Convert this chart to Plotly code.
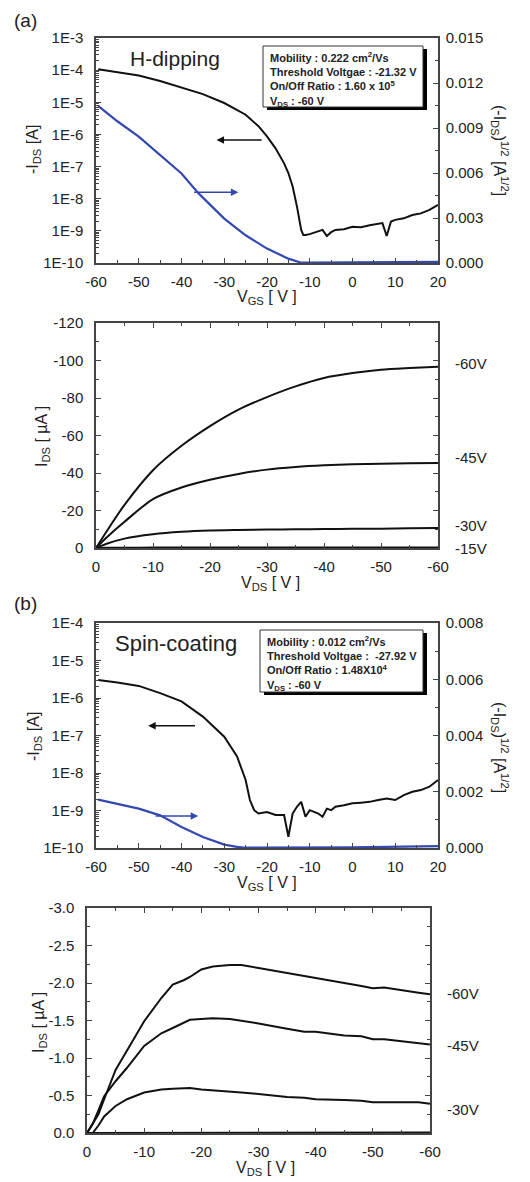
import plotly.graph_objects as go

# ---------------- DATA ----------------
# (a) H-dipping transfer curve
vgs_a = [-59.5, -55, -50, -45, -40, -35, -30, -25, -22, -20, -18, -16, -15, -14, -13, -12.5, -12,
         -11.5, -11, -10, -8, -7, -6, -5, -4, -2, 0, 2, 4, 6, 7, 8, 9, 10, 12, 14, 16, 18, 20]
ids_a = [1.07e-4, 8.5e-5, 6.8e-5, 4.6e-5, 2.95e-5, 1.8e-5, 9.5e-6, 4.1e-6, 1.8e-6, 8.7e-7, 3.7e-7,
         1.26e-7, 6.3e-8, 2.4e-8, 5.8e-9, 2.2e-9, 1.07e-9, 7.4e-10, 7.4e-10, 7.9e-10, 9.5e-10,
         1.07e-9, 6.9e-10, 9.1e-10, 1.07e-9, 1.12e-9, 1.35e-9, 1.29e-9, 1.5e-9, 1.64e-9, 1.74e-9,
         6.9e-10, 1.95e-9, 2.2e-9, 2.45e-9, 3.1e-9, 3.5e-9, 4.5e-9, 6.4e-9]
vgs_a_sqrt = [-59.5, -55, -50, -45, -40, -36, -30, -25, -20, -15, -12, -10, 0, 10, 20]
sqrt_a = [0.01048, 0.00945, 0.00843, 0.0072, 0.00597, 0.00464, 0.00296, 0.00185, 0.00096,
          0.00029, 0.00002, 0.00003, 0.00004, 0.00005, 0.00007]

# (a) H-dipping output curves
vds_a = [0, -2, -5, -10, -15, -20, -25, -30, -35, -40, -45, -50, -55, -60]
out_a_60 = [0, -9.5, -23, -41.5, -54.5, -65, -73.8, -80.5, -86.2, -90.7, -93.3, -95.1, -96.0, -96.7]
out_a_45 = [0, -6, -14, -26.1, -32.3, -36.4, -39.5, -41.8, -43.2, -44.1, -44.7, -45.0, -45.2, -45.3]
out_a_30 = [0, -2.4, -5.0, -7.3, -8.6, -9.3, -9.6, -9.8, -10.0, -10.1, -10.2, -10.3, -10.5, -10.7]
out_a_15 = [0, -0.1, -0.15, -0.2, -0.2, -0.2, -0.2, -0.2, -0.2, -0.2, -0.2, -0.2, -0.2, -0.2]

# (b) Spin-coating transfer curve
vgs_b = [-59.5, -55, -50, -45, -40, -35, -30, -27, -25, -24, -23, -22, -20, -19, -18, -16, -15,
         -14, -13, -12, -11, -10, -8, -7, -6, -5, -4, -2, 0, 2, 4, 6, 8, 10, 12, 14, 16, 18, 20]
ids_b = [3.0e-6, 2.6e-6, 2.1e-6, 1.35e-6, 8.1e-7, 3.2e-7, 9.3e-8, 2.75e-8, 6.5e-9, 1.9e-9, 1.02e-9,
         8.3e-10, 9.1e-10, 8.3e-10, 7.6e-10, 7.6e-10, 2.0e-10, 8.3e-10, 1.26e-9, 1.7e-9, 6.8e-10,
         1.02e-9, 8.3e-10, 6.8e-10, 1.12e-9, 1.02e-9, 1.26e-9, 1.38e-9, 1.55e-9, 1.62e-9, 1.7e-9,
         1.9e-9, 2.1e-9, 1.9e-9, 2.57e-9, 3.16e-9, 3.5e-9, 4.3e-9, 6.5e-9]
vgs_b_sqrt = [-59.5, -55, -50, -45, -40, -35, -30, -27, -25, 0, 10, 20]
sqrt_b = [0.00172, 0.00158, 0.0014, 0.00116, 0.00075, 0.00039, 0.00012, 0.00004, 0.00001,
          0.00002, 0.00004, 0.00007]

# (b) Spin-coating output curves
vds_b = [0, -1, -2, -3, -5, -7, -10, -13, -15, -17, -18, -20, -22, -25, -27, -30, -35, -38, -40,
         -45, -48, -50, -52, -55, -58, -60]
out_b_60 = [0, -0.12, -0.25, -0.45, -0.84, -1.1, -1.49, -1.8, -1.98, -2.04, -2.08, -2.18, -2.22,
            -2.24, -2.24, -2.2, -2.13, -2.09, -2.07, -2.0, -1.96, -1.93, -1.94, -1.9, -1.87, -1.85]
out_b_45 = [0, -0.12, -0.3, -0.49, -0.69, -0.87, -1.16, -1.33, -1.4, -1.47, -1.51, -1.52, -1.53,
            -1.52, -1.5, -1.46, -1.39, -1.35, -1.35, -1.3, -1.29, -1.25, -1.25, -1.22, -1.2, -1.18]
out_b_30 = [0, 0, -0.1, -0.22, -0.36, -0.45, -0.54, -0.58, -0.59, -0.6, -0.6, -0.58, -0.57, -0.55,
            -0.54, -0.52, -0.48, -0.47, -0.45, -0.44, -0.43, -0.41, -0.41, -0.4, -0.41, -0.39]
out_b_15 = [0, 0, 0, 0, 0, 0, -0.005, -0.005, -0.005, -0.005, -0.005, -0.005, -0.005, -0.005,
            -0.005, -0.005, -0.005, -0.005, -0.005, -0.005, -0.005, -0.005, -0.005, -0.005, -0.005, -0.005]

# tick labels
log_vals_a = [1e-10, 1e-9, 1e-8, 1e-7, 1e-6, 1e-5, 1e-4, 1e-3]
log_text_a = ['1E-10', '1E-9', '1E-8', '1E-7', '1E-6', '1E-5', '1E-4', '1E-3']
log_vals_b = [1e-10, 1e-9, 1e-8, 1e-7, 1e-6, 1e-5, 1e-4]
log_text_b = ['1E-10', '1E-9', '1E-8', '1E-7', '1E-6', '1E-5', '1E-4']
vgs_ticks = [-60, -50, -40, -30, -20, -10, 0, 10, 20]
vgs_text = ['-60', '-50', '-40', '-30', '-20', '-10', '0', '10', '20']
sqrt_a_ticks = [0, 0.003, 0.006, 0.009, 0.012, 0.015]
sqrt_a_text = ['0.000', '0.003', '0.006', '0.009', '0.012', '0.015']
sqrt_b_ticks = [0, 0.002, 0.004, 0.006, 0.008]
sqrt_b_text = ['0.000', '0.002', '0.004', '0.006', '0.008']
vds_ticks = [0, -10, -20, -30, -40, -50, -60]
vds_text = ['0', '-10', '-20', '-30', '-40', '-50', '-60']
ida_ticks = [0, -20, -40, -60, -80, -100, -120]
ida_text = ['0', '-20', '-40', '-60', '-80', '-100', '-120']
idb_ticks = [0, -0.5, -1.0, -1.5, -2.0, -2.5, -3.0]
idb_text = ['0.0', '-0.5', '-1.0', '-1.5', '-2.0', '-2.5', '-3.0']

# ---------------- LAYOUT HELPERS ----------------
W, H = 530, 1182
OFF = 8  # page body margin in the browser
FW, FH = W - OFF, H - OFF
def px(x):
    return (x - OFF) / FW
def py(y):
    return 1 - (y - OFF) / FH

FONT = 'Liberation Sans, Arial, sans-serif'
BLACK = '#111111'
BLUE = '#3548b0'
AX = '#444444'
tickfont = dict(family=FONT, size=15, color='#222222')

def axis(**kw):
    d = dict(showline=True, linecolor=AX, linewidth=1.5, ticks='inside', ticklen=5,
             tickwidth=1.2, tickcolor=AX, tickfont=tickfont, showgrid=False, zeroline=False,
             tickmode='array', automargin=False)
    d.update(kw)
    return d

fig = go.Figure()

line_k = dict(color=BLACK, width=2)
line_ks = dict(color=BLACK, width=2, shape='spline', smoothing=0.8)
line_b = dict(color=BLUE, width=2.2)

fig.add_trace(go.Scatter(x=vgs_a, y=ids_a, mode='lines', line=line_k, xaxis='x', yaxis='y'))
fig.add_trace(go.Scatter(x=vgs_a_sqrt, y=sqrt_a, mode='lines', line=line_b, xaxis='x', yaxis='y2'))
for s in [out_a_60, out_a_45, out_a_30, out_a_15]:
    fig.add_trace(go.Scatter(x=vds_a, y=s, mode='lines', line=line_ks, xaxis='x2', yaxis='y3'))
fig.add_trace(go.Scatter(x=vgs_b, y=ids_b, mode='lines', line=line_k, xaxis='x3', yaxis='y4'))
fig.add_trace(go.Scatter(x=vgs_b_sqrt, y=sqrt_b, mode='lines', line=line_b, xaxis='x3', yaxis='y5'))
for s in [out_b_60, out_b_45, out_b_30, out_b_15]:
    fig.add_trace(go.Scatter(x=vds_b, y=s, mode='lines', line=line_k, xaxis='x4', yaxis='y6'))

xdom = [px(96), px(438)]
xdom4 = [px(87), px(430)]
dom1 = [py(263), py(38)]
dom2 = [py(548), py(323)]
dom3 = [py(848), py(623)]
dom4 = [py(1133), py(908)]

minor_log_a = [k * 10 ** e for e in range(-10, -3) for k in range(2, 10)]
minor_log_b = [k * 10 ** e for e in range(-10, -4) for k in range(2, 10)]

fig.update_layout(
    template='none',
    width=FW, height=FH, margin=dict(l=0, r=0, t=0, b=0, pad=0), showlegend=False,
    paper_bgcolor='white', plot_bgcolor='white',
    xaxis=axis(domain=xdom, anchor='y', range=[-60, 20], tickvals=vgs_ticks, ticktext=vgs_text,
               mirror=True, ticklabelstandoff=4,
               minor=dict(dtick=5, tick0=-55, ticks='inside', ticklen=3, tickcolor=AX)),
    yaxis=axis(domain=dom1, anchor='x', type='log', range=[-10, -3], tickvals=log_vals_a,
               ticktext=log_text_a, ticklabelstandoff=8,
               minor=dict(tickmode='array', tickvals=minor_log_a, ticks='inside', ticklen=3, tickcolor=AX)),
    yaxis2=axis(domain=dom1, anchor='x', overlaying='y', side='right', range=[0, 0.015],
                tickvals=sqrt_a_ticks, ticktext=sqrt_a_text, ticklabelstandoff=3,
                minor=dict(dtick=0.0015, tick0=0, ticks='inside', ticklen=3, tickcolor=AX)),
    xaxis2=axis(domain=xdom, anchor='y3', range=[0, -60], tickvals=vds_ticks, ticktext=vds_text,
                mirror='ticks', ticklabelstandoff=4,
                minor=dict(dtick=5, tick0=-5, ticks='inside', ticklen=3, tickcolor=AX)),
    yaxis3=axis(domain=dom2, anchor='x2', range=[0, -120], tickvals=ida_ticks, ticktext=ida_text,
                mirror='ticks', ticklabelstandoff=8,
                minor=dict(dtick=10, tick0=-10, ticks='inside', ticklen=3, tickcolor=AX)),
    xaxis3=axis(domain=xdom, anchor='y4', range=[-60, 20], tickvals=vgs_ticks, ticktext=vgs_text,
                mirror=True, ticklabelstandoff=4,
                minor=dict(dtick=5, tick0=-55, ticks='inside', ticklen=3, tickcolor=AX)),
    yaxis4=axis(domain=dom3, anchor='x3', type='log', range=[-10, -4], tickvals=log_vals_b,
                ticktext=log_text_b, ticklabelstandoff=8,
                minor=dict(tickmode='array', tickvals=minor_log_b, ticks='inside', ticklen=3, tickcolor=AX)),
    yaxis5=axis(domain=dom3, anchor='x3', overlaying='y4', side='right', range=[0, 0.008],
                tickvals=sqrt_b_ticks, ticktext=sqrt_b_text, ticklabelstandoff=3,
                minor=dict(dtick=0.001, tick0=0, ticks='inside', ticklen=3, tickcolor=AX)),
    xaxis4=axis(domain=xdom4, anchor='y6', range=[0, -60], tickvals=vds_ticks, ticktext=vds_text,
                mirror='ticks', ticklabelstandoff=4,
                minor=dict(dtick=5, tick0=-5, ticks='inside', ticklen=3, tickcolor=AX)),
    yaxis6=axis(domain=dom4, anchor='x4', range=[0, -3], tickvals=idb_ticks, ticktext=idb_text,
                mirror='ticks', ticklabelstandoff=8,
                minor=dict(dtick=0.25, tick0=-0.25, ticks='inside', ticklen=3, tickcolor=AX)),
)

ann = []
def txt(x, y, text, size=16, angle=0, xanchor='center', yanchor='middle', align='center'):
    ann.append(dict(x=px(x), y=py(y), xref='paper', yref='paper', text=text, showarrow=False,
                    font=dict(family=FONT, size=size, color='#222222'), textangle=angle,
                    xanchor=xanchor, yanchor=yanchor, align=align))

# panel labels
txt(12, 20, '(a)', size=19, xanchor='left')
txt(12, 603, '(b)', size=19, xanchor='left')
# titles in plots
txt(128, 58, 'H-dipping', size=21, xanchor='left')
txt(113, 643, 'Spin-coating', size=22, xanchor='left')
# axis titles
txt(34, 150, '-I<sub>DS</sub> [A]', angle=-90)
txt(500, 150, '(-I<sub>DS</sub>)<sup>1/2</sup> [A<sup>1/2</sup>]', angle=90)
txt(267, 298, 'V<sub>GS</sub> [ V ]')
txt(42, 437, 'I<sub>DS</sub> [ µA ]', angle=-90)
txt(270, 584, 'V<sub>DS</sub> [ V ]')
txt(34, 737, '-I<sub>DS</sub> [A]', angle=-90)
txt(500, 747, '(-I<sub>DS</sub>)<sup>1/2</sup> [A<sup>1/2</sup>]', angle=90)
txt(267, 883, 'V<sub>GS</sub> [ V ]')
txt(40, 1023, 'I<sub>DS</sub> [ µA ]', angle=-90)
txt(265, 1168, 'V<sub>DS</sub> [ V ]')
# curve labels
for lab, y in [('-60V', 363), ('-45V', 458), ('-30V', 525), ('-15V', 548)]:
    txt(453, y, lab, size=15, xanchor='left')
for lab, y in [('-60V', 993), ('-45V', 1045), ('-30V', 1109)]:
    txt(445, y, lab, size=15, xanchor='left')

# inset boxes text
info_a = ('<b>Mobility : 0.222 cm<sup>2</sup>/Vs<br>Threshold Voltgae : -21.32 V<br>'
          'On/Off Ratio : 1.60 x 10<sup>5</sup><br>V<sub>DS</sub> : -60 V</b>')
info_b = ('<b>Mobility : 0.012 cm<sup>2</sup>/Vs<br>Threshold Voltgae :  -27.92 V<br>'
          'On/Off Ratio : 1.48X10<sup>4</sup><br>V<sub>DS</sub> : -60 V</b>')
txt(268, 48, info_a, size=11, xanchor='left', yanchor='top', align='left')
txt(265, 632, info_b, size=11, xanchor='left', yanchor='top', align='left')

# arrows
def arrow(xr, yr, x, y, ax, ay, color):
    ann.append(dict(x=x, y=y, ax=ax, ay=ay, xref=xr, yref=yr, axref=xr, ayref=yr, text='',
                    showarrow=True, arrowhead=2, arrowsize=1, arrowwidth=1.5, arrowcolor=color))

arrow('x', 'y', -31.8, -6.17, -20.9, -6.17, BLACK)
arrow('x', 'y2', -26.7, 0.00472, -37.4, 0.00472, BLUE)
arrow('x3', 'y4', -47.8, -6.74, -36.5, -6.74, BLACK)
arrow('x3', 'y5', -36.1, 0.00114, -46.4, 0.00114, BLUE)

fig.update_layout(annotations=ann)

shapes = []
def box(x0, y0, x1, y1):
    shapes.append(dict(type='rect', xref='paper', yref='paper', x0=px(x0 + 4), x1=px(x1 + 4),
                       y0=py(y1 + 3), y1=py(y0 + 3), fillcolor='black', line=dict(width=0)))
    shapes.append(dict(type='rect', xref='paper', yref='paper', x0=px(x0), x1=px(x1),
                       y0=py(y1), y1=py(y0), fillcolor='white', line=dict(color='#333333', width=1)))
box(263, 46, 423, 107)
box(260, 630, 423, 692)
fig.update_layout(shapes=shapes)

fig.write_html('out.html')
